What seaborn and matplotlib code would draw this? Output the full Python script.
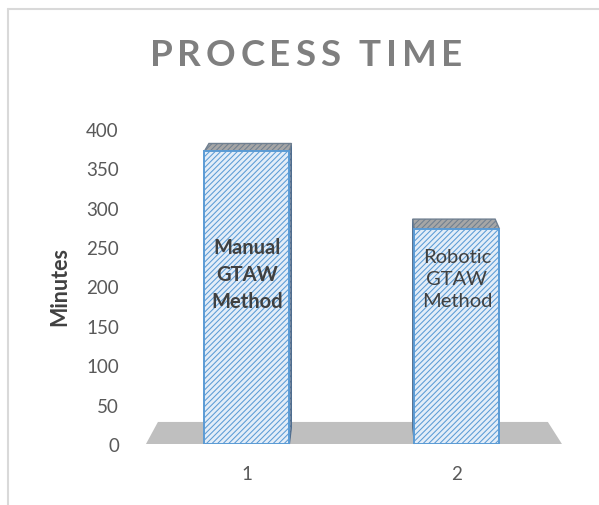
import matplotlib
matplotlib.use("Agg")
import matplotlib.pyplot as plt
from matplotlib.patches import Polygon
from matplotlib.lines import Line2D
import numpy as np
import pandas as pd
import seaborn as sns

# ---- data ----
categories = ["1", "2"]
minutes = [372, 273]
bar_labels = ["Manual\nGTAW\nMethod", "Robotic\nGTAW\nMethod"]
bar_label_weights = ["bold", "normal"]
yticks = [0, 50, 100, 150, 200, 250, 300, 350, 400]
title = "PROCESS TIME"
ylabel = "Minutes"

sns.set_theme(style="white")
plt.rcParams["font.family"] = ["Lato", "DejaVu Sans"]
plt.rcParams["hatch.linewidth"] = 0.75

W, H = 599, 506
fig = plt.figure(figsize=(W / 100, H / 100), dpi=100)
fig.patch.set_facecolor("white")

# plot area in pixels: x 130..580, y 130 (top) .. 445 (baseline)
ax = fig.add_axes([130 / W, (H - 445) / H, (580 - 130) / W, (445 - 130) / H])
ax.set_facecolor("none")

df = pd.DataFrame({"cat": categories, "minutes": minutes})
sns.barplot(data=df, x="cat", y="minutes", width=0.405, color="#e3edf8",
            saturation=1, ax=ax, zorder=3)

ax.set_xlim(-0.557, 1.586)
ax.set_ylim(0, 400)
ax.set_yticks(yticks)
ax.set_yticklabels([str(v) for v in yticks])
for s in ax.spines.values():
    s.set_visible(False)
ax.tick_params(axis="y", length=0, pad=8, labelsize=13.5, labelcolor="#595959")
ax.tick_params(axis="x", length=0, pad=15, labelsize=13.5, labelcolor="#595959")
ax.set_xlabel("")
ax.set_ylabel("")

blue = "#5b9bd5"
bars = list(ax.patches)
for p in bars:
    p.set_hatch("//////")
    p.set_edgecolor(blue)
    p.set_linewidth(1.4)

# floor slab under the columns
floor = Polygon([(-0.481, 0), (1.50, 0), (1.433, 28), (-0.424, 28)],
                closed=True, facecolor="#bfbfbf", edgecolor="none",
                zorder=1, clip_on=False)
ax.add_patch(floor)

# depth faces of the columns, projected toward a vanishing point
fig.canvas.draw()
to_disp = ax.transData.transform
to_data = ax.transData.inverted().transform
vp = np.array([355.0, H + 100.0])
depth = 0.03


def back(pt):
    d = to_disp(pt)
    return to_data(d + depth * (vp - d))


for p in bars:
    x0 = p.get_x()
    x1 = x0 + p.get_width()
    top = p.get_height()
    fl, fr = np.array([x0, top]), np.array([x1, top])
    top_face = Polygon([fl, fr, back(fr), back(fl)], closed=True,
                       facecolor="#a6a6a6", edgecolor="#6f7f90", hatch="//////",
                       linewidth=1.0, zorder=2.6, clip_on=False)
    ax.add_patch(top_face)
    vx_data = to_data(vp)[0]
    if x1 < vx_data:
        side = [np.array([x1, 0]), fr, back(fr), back(np.array([x1, 0]))]
    else:
        side = [np.array([x0, 0]), fl, back(fl), back(np.array([x0, 0]))]
    ax.add_patch(Polygon(side, closed=True, facecolor="#7d8ea3",
                         edgecolor="#4f6d8f", hatch="//////", linewidth=0.8,
                         zorder=2.5, clip_on=False))

# labels inside the columns
for p, lab, wt, yc, ls in zip(bars, bar_labels, bar_label_weights,
                              [216, 210], [1.45, 1.35]):
    cx = p.get_x() + p.get_width() / 2
    ax.text(cx, yc, lab, ha="center", va="center", fontsize=14.5,
            fontweight=wt, color="#404040", linespacing=ls, zorder=6)

fig.text(60 / W, (H - 287) / H, ylabel, rotation=90, ha="center",
         va="center", fontsize=15.5, fontweight="bold", color="#404040")

# spaced-out title, placed character by character
renderer = fig.canvas.get_renderer()
tracking = 4.8
pieces = []
total = 0.0
for ch in title:
    t = fig.text(0, 0, ch, fontsize=26.5, fontweight="bold", color="#7f7f7f")
    w = t.get_window_extent(renderer).width
    if ch == " ":
        w = 9.0
    pieces.append((t, w))
    total += w + tracking
total -= tracking
x = 306 - total / 2
for t, w in pieces:
    t.set_position((x / W, (H - 56) / H))
    t.set_va("center")
    x += w + tracking

# chart frame
fig.add_artist(Line2D([8 / W, 1], [(H - 9.5) / H] * 2, color="#d9d9d9",
                      linewidth=1.5, transform=fig.transFigure))
fig.add_artist(Line2D([8 / W] * 2, [0, (H - 9.5) / H], color="#d9d9d9",
                      linewidth=1.5, transform=fig.transFigure))

fig.savefig("out.png", dpi=100, facecolor="white")
